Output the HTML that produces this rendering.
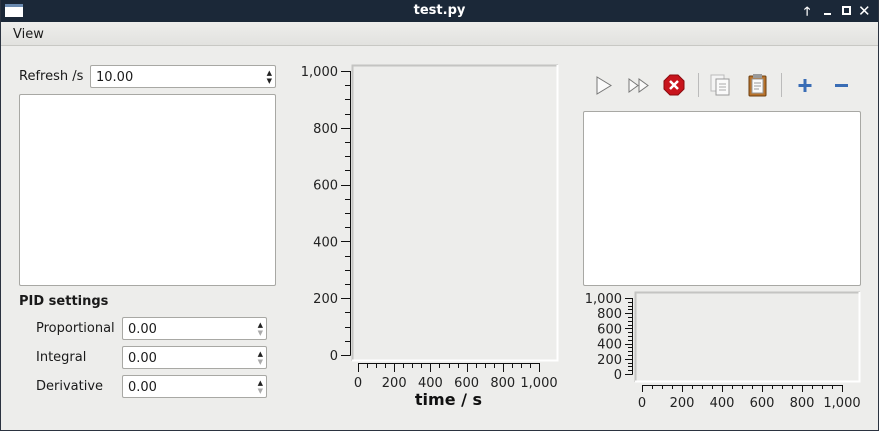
<!DOCTYPE html>
<html><head><meta charset="utf-8">
<style>
*{box-sizing:border-box;margin:0;padding:0}
body{width:879px;height:431px;overflow:hidden;background:#2b3340;font-family:"DejaVu Sans","Liberation Sans",sans-serif;font-size:13px;color:#1a1a1a}
.win{position:absolute;left:1px;top:0;width:877px;height:430px;background:#ededeb}
.title{position:absolute;left:0;top:0;width:877px;height:22px;background:#1b2838;color:#fff;font-weight:bold;text-align:center;line-height:22px;font-size:13px}
.menu{position:absolute;left:0;top:22px;width:877px;height:24px;background:linear-gradient(#eeeeec,#e2e2df);border-bottom:1px solid #c8c8c4}
.abs{position:absolute}
.box{position:absolute;background:#fff;border:1px solid #a8a8a4;border-radius:2px}
.spin{position:absolute;background:#fff;border:1px solid #a8a8a4;border-radius:2px;padding-left:5px;padding-top:1px;line-height:21px}
.arr{position:absolute;right:3px;font-size:7px;line-height:8px;color:#222}
</style></head><body>
<div class="win">
<div class="title">test.py
 <div class="abs" style="left:4px;top:4px;width:18px;height:13px;background:#fff;border-top:3px solid #6a8ab0"></div>
 <div class="abs" style="left:803px;top:0;font-size:12px">🡑</div>
 <div class="abs" style="left:823px;top:13px;width:7px;height:2px;background:#fff"></div>
 <div class="abs" style="left:841px;top:6px;width:9px;height:9px;border:2px solid #fff"></div>
 <div class="abs" style="left:857px;top:0;font-size:15px">✕</div>
</div>
<div class="menu"><span class="abs" style="left:12px;top:5px">View</span></div>

<span class="abs" style="left:18px;top:69px">Refresh /s</span>
<div class="spin" style="left:89px;top:65px;width:186px;height:23px">10.00<span class="arr" style="top:3px">▲<br>▼</span></div>
<div class="box" style="left:18px;top:94px;width:257px;height:192px"></div>

<span class="abs" style="left:18px;top:294px;font-weight:bold">PID settings</span>
<span class="abs" style="left:35px;top:321px">Proportional</span>
<div class="spin" style="left:121px;top:317px;width:145px;height:23px">0.00<span class="arr" style="top:3px">▲<br><span style="color:#aaa">▼</span></span></div>
<span class="abs" style="left:35px;top:350px">Integral</span>
<div class="spin" style="left:121px;top:346px;width:145px;height:23px">0.00<span class="arr" style="top:3px">▲<br><span style="color:#aaa">▼</span></span></div>
<span class="abs" style="left:35px;top:379px">Derivative</span>
<div class="spin" style="left:121px;top:375px;width:145px;height:23px">0.00<span class="arr" style="top:3px">▲<br><span style="color:#aaa">▼</span></span></div>

<svg class="abs" style="left:580px;top:70px" width="290" height="32">
 <g><polygon points="16,7 16,24 30,15.5" fill="#fafafa" stroke="#777" stroke-width="1"/></g>
 <g><polygon points="48,9 48,22 57,15.5" fill="#fafafa" stroke="#777"/><polygon points="58,9 58,22 67,15.5" fill="#fafafa" stroke="#777"/></g>
 <g><polygon points="89,5 97,5 103,11 103,19 97,25 89,25 83,19 83,11" fill="#c8141c" stroke="#8a0a0e"/><path d="M89,11 L97,19 M97,11 L89,19" stroke="#fff" stroke-width="2.5"/></g>
 <line x1="117.5" y1="3" x2="117.5" y2="27" stroke="#bbb"/>
 <g><rect x="130" y="5" width="13" height="16" fill="#f4f4f4" stroke="#bbb"/><rect x="135" y="9" width="13" height="16" fill="#fafafa" stroke="#999"/><path d="M138,14h7M138,17h7M138,20h7" stroke="#aaa"/></g>
 <g><rect x="168" y="6" width="17" height="20" rx="1" fill="#b8722a" stroke="#6b3e10"/><rect x="171" y="9" width="11" height="14" fill="#fafafa" stroke="#999"/><rect x="172" y="4" width="9" height="4" fill="#999"/><path d="M173,13h7M173,16h7M173,19h5" stroke="#999"/></g>
 <line x1="200.5" y1="3" x2="200.5" y2="27" stroke="#bbb"/>
 <g><path d="M224,9v13M217.5,15.5h13" stroke="#3a6db5" stroke-width="3"/></g>
 <g><path d="M254,15.5h13" stroke="#3a6db5" stroke-width="3"/></g>
</svg>
<div class="box" style="left:582px;top:111px;width:278px;height:175px"></div>

<svg id="charts" class="abs" style="left:-1px;top:0" width="879" height="431"></svg>
</div>
<script>
const yTicks=[0,200,400,600,800,1000];
const xTicks=[0,200,400,600,800,1000];
const yTickLabels=["0","200","400","600","800","1,000"];
const xTickLabels=["0","200","400","600","800","1,000"];
const yMinorStep=[50];
const xMinorStep=[50];
const seriesX=[];
const seriesY=[];
const NS="http://www.w3.org/2000/svg";
const svg=document.getElementById('charts');
function mk(t,a,p){const e=document.createElementNS(NS,t);for(const k in a)e.setAttribute(k,a[k]);(p||svg).appendChild(e);return e;}
function chart(c){
 const g=mk('g',{});
 
 
 const sx=v=>c.x0+(v-0)/(1000)*(c.x1-c.x0);
 const sy=v=>c.y0-(v-0)/(1000)*(c.y0-c.y1);
 const pa=mk('rect',{x:c.px,y:c.py,width:c.pw,height:c.ph,fill:'#ededeb'},g);
 
 
 mk('path',{d:`M${c.px+0.5},${c.py+c.ph}V${c.py+0.5}H${c.px+c.pw}`,stroke:'#c4c4c2','stroke-width':2,fill:'none'},g);
 mk('path',{d:`M${c.px},${c.py+c.ph-0.5}H${c.px+c.pw-0.5}V${c.py}`,stroke:'#fff','stroke-width':2,fill:'none'},g);
 const ya=mk('line',{x1:c.ax+0.5,y1:sy(1000),x2:c.ax+0.5,y2:sy(0)+0.5,stroke:'#111'},g);
 
 
 for(let v=0;v<=1000;v+=yMinorStep[0]){const maj=v%200===0;mk('line',{x1:c.ax-(maj?c.maj:c.min),x2:c.ax+0.5,y1:Math.round(sy(v))+0.5,y2:Math.round(sy(v))+0.5,stroke:'#111'},g);}
 yTicks.forEach((v,i)=>{const t=mk('text',{x:c.ax-c.maj-3,y:sy(v)+5,'text-anchor':'end','font-size':13,fill:'#222'},g);t.textContent=yTickLabels[i];
  
  });
 const xa=mk('line',{x1:sx(0),y1:c.ay+0.5,x2:sx(1000)+0.5,y2:c.ay+0.5,stroke:'#111'},g);
 
 
 for(let v=0;v<=1000;v+=xMinorStep[0]){const maj=v%200===0;mk('line',{x1:Math.round(sx(v))+0.5,x2:Math.round(sx(v))+0.5,y1:c.ay,y2:c.ay+(maj?c.maj:c.min),stroke:'#111'},g);}
 xTicks.forEach((v,i)=>{const t=mk('text',{x:sx(v),y:c.ay+c.maj+15,'text-anchor':'middle','font-size':13,fill:'#222'},g);t.textContent=xTickLabels[i];
  
  });
 if(seriesX.length){const d=seriesX.map((x,i)=>(i?'L':'M')+sx(x)+','+sy(seriesY[i])).join('');const l=mk('path',{d:d,stroke:'#1f77b4',fill:'none'},g);
  
  }
 if(c.title){const t=mk('text',{x:(sx(0)+sx(1000))/2,y:c.ay+42,'text-anchor':'middle','font-size':16,'font-weight':'bold',fill:'#111'},g);t.textContent=c.title;
  
  }
}
chart({name:'main-chart',px:352,py:65,pw:206,ph:296,ax:350,x0:358,x1:539,y0:355,y1:71,ay:363,maj:9,min:5,title:'time / s'});
chart({name:'small-chart',px:635,py:292,pw:225,ph:90,ax:632,x0:642,x1:842,y0:374,y1:298,ay:385,maj:7,min:4,title:''});
</script>
</body></html>
